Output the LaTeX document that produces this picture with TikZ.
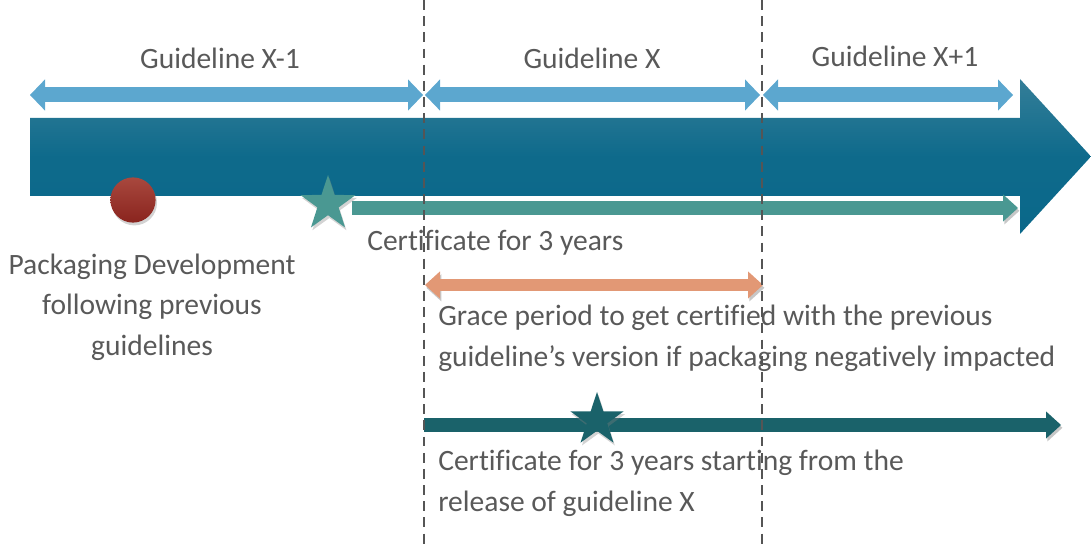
\documentclass[tikz,border=0pt]{standalone}
\usepackage{fontspec}
\setmainfont{Carlito}[Ligatures=CommonOff]
\usetikzlibrary{arrows.meta, shapes.geometric, shadows}
\definecolor{textGray}{RGB}{89,89,89}
\definecolor{spanBlue}{RGB}{92,167,207}
\definecolor{mainTop}{RGB}{52,126,152}
\definecolor{mainBot}{RGB}{10,104,138}
\definecolor{certTeal}{RGB}{74,152,146}
\definecolor{certDark}{RGB}{26,98,106}
\definecolor{graceOrange}{RGB}{226,152,117}
\definecolor{devRedTop}{RGB}{168,72,62}
\definecolor{devRedBot}{RGB}{138,36,30}
\definecolor{guideGray}{RGB}{85,85,85}

\begin{document}
\begin{tikzpicture}[x=0.025cm, y=-0.025cm,
    txt/.style={font=\fontsize{21}{28.5}\selectfont, text=textGray, inner sep=0pt},
    span/.style={{Triangle[length=0.375cm, width=0.78cm, line width=0pt]}-{Triangle[length=0.375cm, width=0.78cm, line width=0pt]}, line width=0.375cm, draw=spanBlue},
    certarrow/.style={-{Triangle[length=0.375cm, width=0.68cm, line width=0pt]}, line width=0.33cm},
    shadowed/.style={preaction={draw=black, opacity=0.22, transform canvas={shift={(1pt,-2pt)}}}},
    guide/.style={draw=guideGray, line width=1.3pt, dash pattern=on 7pt off 4.5pt},
    starmark/.style={star, star points=5, star point ratio=2.6, minimum size=1.45cm, inner sep=0pt, drop shadow={opacity=0.35, shadow xshift=1pt, shadow yshift=-2pt}}
]
\useasboundingbox (0,0) rectangle (1091,544);

% release lines of the guidelines
\coordinate (lineX top) at (424,0);
\coordinate (lineX bot) at (424,544);
\coordinate (lineXp top) at (762,0);
\coordinate (lineXp bot) at (762,544);

% main time line
\path[top color=mainTop, bottom color=mainBot, middle color=mainBot!90!mainTop]
  (30,118) -- (1020,118) -- (1020,79) -- (1091,156.5) -- (1020,234) -- (1020,196) -- (30,196) -- cycle;

% validity span of each guideline
\coordinate (spanA west) at (30,95);
\coordinate (spanA east) at (423,95);
\coordinate (spanB west) at (425,95);
\coordinate (spanB east) at (760,95);
\coordinate (spanC west) at (763,95);
\coordinate (spanC east) at (1013,95);
\draw[span] (spanA west) -- (spanA east);
\draw[span] (spanB west) -- (spanB east);
\draw[span] (spanC west) -- (spanC east);

\node[txt, anchor=base] (labelA) at (220,69) {Guideline X-1};
\node[txt, anchor=base] (labelB) at (592,69) {Guideline X};
\node[txt, anchor=base] (labelC) at (895,67) {Guideline X+1};

% development and first certificate
\node[circle, minimum size=1.13cm, inner sep=0pt, top color=devRedTop, bottom color=devRedBot,
  drop shadow={opacity=0.35, shadow xshift=1pt, shadow yshift=-2pt}] (dev) at (133,200) {};
\node[txt, align=center, anchor=base] (devText) at (152,355) {Packaging Development\\following previous\\guidelines};

\coordinate (certA start) at (352,208);
\coordinate (certA end) at (1018,208);
\draw[certarrow, shadowed, draw=certTeal, line width=0.33cm] (certA start) -- (certA end);
\node[starmark, fill=certTeal] (certA star) at (328,204) {};
\node[txt, anchor=base west] (certAText) at (367,251) {Certificate for 3 years};

% grace period
\coordinate (grace west) at (425,285);
\coordinate (grace east) at (763,285);
\draw[{Triangle[length=0.375cm, width=0.68cm, line width=0pt]}-{Triangle[length=0.375cm, width=0.68cm, line width=0pt]}, shadowed, line width=0.3cm, draw=graceOrange] (grace west) -- (grace east);
\node[txt, align=left, anchor=base west] (graceText) at (438,366) {Grace period to get certified with the previous\\guideline’s version if packaging negatively impacted};

% certificate counted from guideline X
\coordinate (certB start) at (424,425);
\coordinate (certB end) at (1061,425);
\draw[certarrow, shadowed, draw=certDark, line width=0.35cm] (certB start) -- (certB end);
\node[starmark, fill=certDark, minimum size=1.4cm] (certB star) at (597,420) {};
\node[txt, align=left, anchor=base west] (certBText) at (438,511) {Certificate for 3 years starting from the\\release of guideline X};

% dashed release lines on top
\draw[guide] (lineX top) -- (lineX bot);
\draw[guide] (lineXp top) -- (lineXp bot);
\end{tikzpicture}
\end{document}
